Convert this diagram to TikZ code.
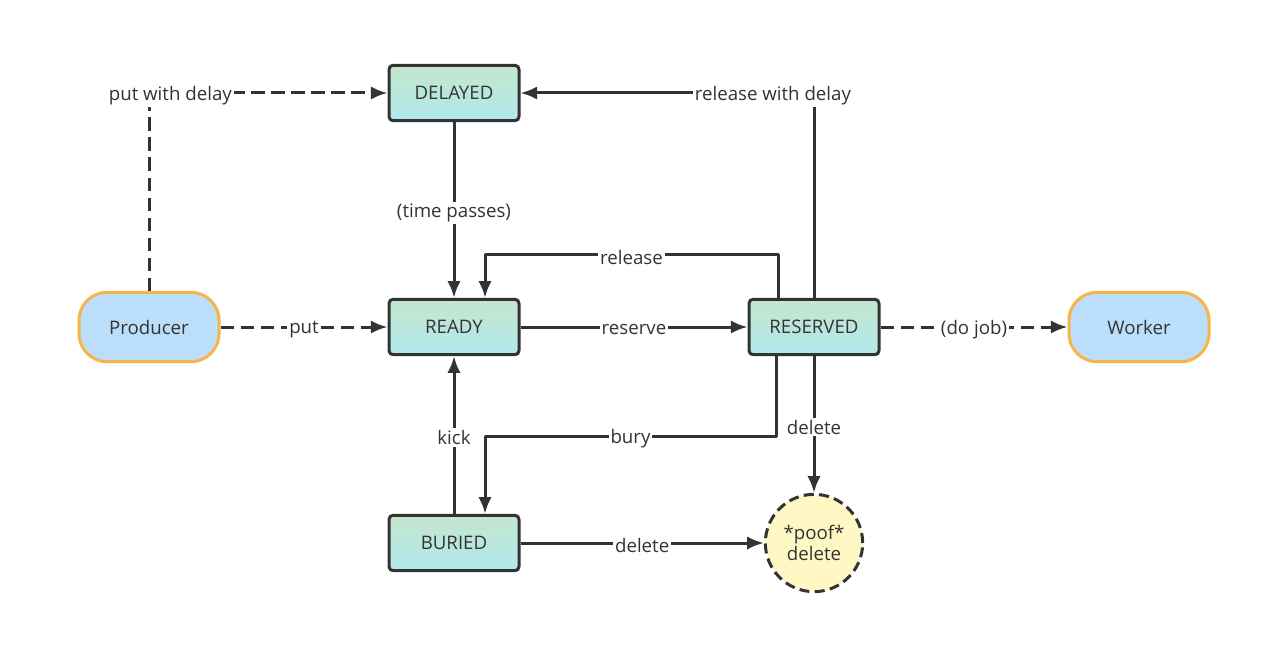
\documentclass[tikz,border=0pt]{standalone}
\usepackage{fontspec}
\setmainfont{Open Sans}
\usetikzlibrary{arrows.meta}
\definecolor{boxtop}{RGB}{196,230,204}
\definecolor{boxbot}{RGB}{176,232,236}
\definecolor{pillfill}{RGB}{187,222,250}
\definecolor{pillline}{RGB}{247,180,72}
\definecolor{poofill}{RGB}{255,248,196}
\definecolor{ink}{RGB}{51,51,51}
\begin{document}
\begin{tikzpicture}[x=0.75pt,y=-0.75pt,line width=2.25pt,line join=round,color=ink,
    >={Latex[length=12.5pt,width=10pt]},
    state/.style={draw=ink,rounded corners=3pt,top color=boxtop,bottom color=boxbot,
      minimum width=97.5pt,minimum height=41.5pt,inner sep=0pt},
    actor/.style={draw=pillline,fill=pillfill,rounded corners=21pt,
      minimum width=105pt,minimum height=52pt,inner sep=0pt},
    gone/.style={circle,draw=ink,fill=poofill,dash pattern=on 7.5pt off 4pt,
      minimum size=73pt,inner sep=0pt,align=center},
    flow/.style={->},
    hint/.style={->,dash pattern=on 10pt off 5pt},
    tag/.style={fill=white,inner sep=1.5pt,yshift=-2pt}]
  \fontsize{14pt}{16pt}\selectfont
  \useasboundingbox (0,0) rectangle (1280,663);
  \foreach \name/\txt/\x/\y in {delayed/DELAYED/454/93, ready/READY/454/327,
      reserved/RESERVED/814/327, buried/BURIED/454/543} {
      \node[state] (\name) at (\x,\y) {\txt};
    }
  \node[actor] (producer) at (149,327) {Producer};
  \node[actor] (worker) at (1139,327) {Worker};
  \node[gone] (poof) at (814,543) {*poof*\\delete};

  \draw[hint] (producer) |- node[tag,pos=0.5,xshift=16pt]{put with delay} (delayed);
  \draw[hint] (producer) -- node[tag]{put} (ready);
  \draw[hint] (reserved) -- node[tag]{(do job)} (worker);
  \draw[flow] (delayed) -- node[tag]{(time passes)} (ready);
  \draw[flow] (ready) -- node[tag]{reserve} (reserved);
  \draw[flow] ([xshift=-27pt]reserved.north) -- ++(0,-43)
    -| node[tag,pos=0.25]{release} ([xshift=23.25pt]ready.north);
  \draw[flow] (reserved) |- node[tag,pos=0.57]{release with delay} (delayed);
  \draw[flow] ([xshift=-28.5pt]reserved.south) -- ++(0,80)
    -| node[tag,pos=0.25]{bury} ([xshift=23.25pt]buried.north);
  \draw[flow] (reserved) -- node[tag]{delete} (poof);
  \draw[flow] (buried) -- node[tag]{kick} (ready);
  \draw[flow] (buried) -- node[tag]{delete} (poof);
\end{tikzpicture}
\end{document}
